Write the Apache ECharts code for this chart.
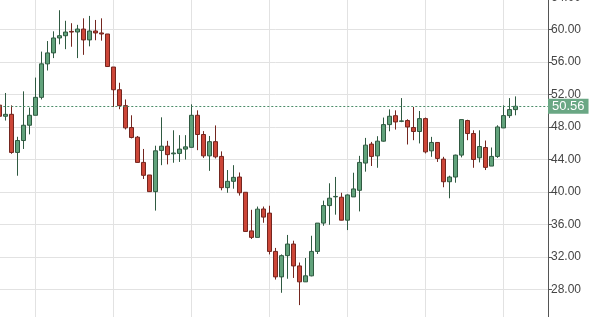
<!DOCTYPE html>
<html>
<head>
<meta charset="utf-8">
<script src="https://cdn.jsdelivr.net/npm/echarts@6/dist/echarts.min.js"></script>
<style>
  html, body { margin: 0; padding: 0; background: #fff; }
  #chart { width: 591px; height: 317px; }
</style>
</head>
<body>
<div id="chart"></div>
<script>
// daily candles
var opens = [50.7, 49.33, 49.57, 44.87, 46.34, 48.22, 49.45, 51.66, 55.79, 57.14,
  58.98, 59.26, 59.79, 59.72, 60.08, 58.74, 59.84, 59.6, 59.47, 55.4,
  52.6, 50.64, 47.94, 46.75, 43.64, 42.09, 40.04, 45.12, 45.64, 44.7,
  44.75, 45.28, 45.5, 49.45, 47.08, 44.45, 46.2, 44.38, 40.53, 41.31,
  41.84, 39.96, 35.2, 34.4, 37.9, 37.39, 32.67, 29.53, 32.15, 33.58,
  30.88, 28.92, 29.66, 32.67, 36.16, 38.32, 39.4, 39.35, 36.52, 39.39,
  40.2, 43.56, 45.9, 44.45, 46.26, 48.3, 49.4, 48.7, 48.8, 47.94,
  47.45, 49.04, 45.07, 46.1, 44.05, 41.26, 41.84, 44.54, 48.8, 47.2,
  44.21, 45.48, 43.19, 44.38, 47.89, 49.41, 50.15];
var closes = [49.33, 49.57, 44.87, 46.34, 48.22, 49.45, 51.66, 55.79, 57.14, 58.98,
  59.26, 59.71, 59.71, 60.08, 58.74, 59.84, 59.6, 59.47, 55.46, 52.6,
  50.64, 47.9, 46.71, 43.64, 42.05, 40.04, 45.07, 45.64, 44.6, 44.8,
  45.28, 45.56, 49.45, 47.08, 44.45, 46.2, 44.33, 40.53, 41.31, 41.8,
  39.9, 35.13, 34.4, 37.88, 36.9, 32.67, 29.53, 32.15, 33.58, 30.88,
  28.92, 29.66, 32.67, 36.16, 38.32, 39.23, 39.45, 36.52, 39.63, 40.37,
  43.64, 45.77, 44.38, 46.26, 48.3, 49.33, 48.63, 48.76, 48.01, 47.45,
  49.04, 44.94, 46.1, 44.13, 41.26, 41.84, 44.54, 48.92, 47.2, 44.0,
  45.6, 43.03, 44.38, 48.01, 49.41, 50.15, 50.56];
var lows = [48.8, 48.8, 44.7, 42.0, 45.3, 47.1, 49.45, 51.4, 54.97, 56.5,
  58.2, 57.6, 57.9, 56.5, 56.9, 57.95, 58.7, 58.65, 55.4, 50.47,
  50.2, 47.7, 46.6, 43.6, 41.6, 40.0, 37.7, 43.3, 43.4, 43.6,
  43.7, 44.0, 45.5, 45.15, 44.2, 42.6, 44.13, 40.2, 39.9, 40.4,
  39.55, 35.1, 34.2, 34.4, 36.2, 32.3, 29.2, 27.57, 29.3, 29.4,
  26.05, 28.9, 29.6, 32.35, 35.83, 35.95, 37.2, 36.5, 35.3, 39.39,
  37.6, 42.5, 43.2, 42.98, 46.2, 47.48, 47.69, 48.6, 45.85, 46.38,
  45.98, 44.75, 44.33, 43.7, 40.58, 39.22, 41.14, 44.26, 46.38, 42.98,
  43.64, 42.7, 43.19, 44.2, 47.89, 49.12, 49.45];
var highs = [51.2, 52.2, 50.67, 46.8, 52.4, 50.4, 54.1, 57.3, 58.6, 59.8,
  62.4, 61.1, 60.8, 60.6, 61.4, 61.7, 61.2, 61.4, 59.47, 55.4,
  53.46, 51.4, 49.45, 46.9, 45.3, 42.09, 45.7, 49.2, 46.3, 47.6,
  47.0, 47.0, 50.8, 50.06, 47.5, 46.9, 48.2, 45.0, 42.7, 43.3,
  42.4, 39.96, 37.8, 38.2, 38.2, 38.3, 33.1, 32.3, 34.7, 33.99,
  31.3, 31.86, 34.6, 36.16, 38.93, 41.07, 41.85, 39.9, 39.7, 42.37,
  44.45, 46.66, 46.17, 46.87, 49.17, 50.18, 50.06, 51.57, 48.96, 50.47,
  49.98, 49.17, 46.79, 46.1, 44.33, 42.0, 44.6, 48.92, 48.9, 47.6,
  47.6, 46.34, 45.48, 48.22, 50.67, 51.57, 51.78];
var lastPrice = 50.56;
var emptySlots = 6;   // blank days on the right before the price axis

var yTicks = { min: 24, max: 64, step: 4 };

var days = [];
for (var i = 0; i < opens.length + emptySlots; i++) days.push('D' + (i + 1));

var candles = opens.map(function(o, i) {
  return [o, closes[i], lows[i], highs[i]];
});
for (var j = 0; j < emptySlots; j++) candles.push('-');

var option = {
  animation: false,
  backgroundColor: '#ffffff',
  grid: {
    left: -0.7, right: 39.7, top: -2.75, bottom: -4.75,
    outerBoundsMode: 'none'
  },
  xAxis: {
    type: 'category',
    data: days,
    boundaryGap: false,
    axisLine: { show: false },
    axisTick: { show: false },
    axisLabel: { show: false },
    splitLine: {
      show: true,
      interval: function(idx) { return idx % 13 === 6; },
      lineStyle: { color: '#e2e2e2', width: 1 }
    }
  },
  yAxis: {
    type: 'value',
    position: 'right',
    offset: -3.3,
    min: yTicks.min,
    max: yTicks.max,
    interval: yTicks.step,
    axisLine: { show: true, lineStyle: { color: '#555555', width: 1 } },
    axisTick: { show: true, length: 4, lineStyle: { color: '#555555' } },
    axisLabel: {
      margin: 3,
      color: '#454545',
      fontSize: 12,
      fontFamily: 'Liberation Sans',
      showMinLabel: false,
      formatter: function(v) { return v.toFixed(2); }
    },
    splitLine: { show: true, lineStyle: { color: '#e2e2e2', width: 1 } }
  },
  series: [{
    type: 'candlestick',
    data: candles,
    barWidth: 5,
    itemStyle: {
      color: '#61a27b',
      color0: '#cc4638',
      borderColor: '#2f5a41',
      borderColor0: '#74261f',
      borderWidth: 1
    },
    markLine: {
      silent: true,
      symbol: 'none',
      data: [{ yAxis: lastPrice }],
      lineStyle: { type: [2, 2], color: '#4b8c69', width: 1 },
      label: {
        position: 'end',
        distance: -3.3,
        formatter: lastPrice.toFixed(2),
        color: '#ffffff',
        fontSize: 13,
        fontFamily: 'Liberation Sans',
        backgroundColor: '#6aa784',
        padding: [1, 4, 1, 4]
      }
    }
  }]
};

var chart = echarts.init(document.getElementById('chart'));
chart.setOption(option);
</script>
</body>
</html>
